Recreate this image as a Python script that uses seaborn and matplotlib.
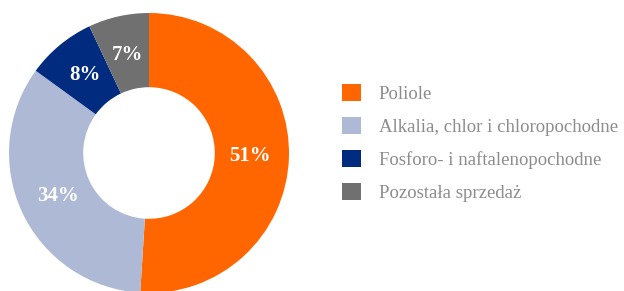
import matplotlib
matplotlib.use("Agg")
import matplotlib.pyplot as plt
import seaborn as sns
from matplotlib.patches import Patch

categories = ["Poliole", "Alkalia, chlor i chloropochodne",
              "Fosforo- i naftalenopochodne", "Pozostała sprzedaż"]
shares = [51, 34, 8, 7]
colors = ["#FF6600", "#ADB9D5", "#002B7F", "#707070"]

sns.set_style("white")
plt.rcParams['font.family'] = ['Liberation Serif', 'DejaVu Serif']

fig = plt.figure(figsize=(6.24, 2.91), dpi=100)
ax = fig.add_axes([9 / 624, -2 / 291, 280 / 624, 280 / 291])

wedges, texts, autotexts = ax.pie(
    shares, colors=colors, startangle=90, counterclock=False,
    autopct=lambda p: f"{p:.0f}%", pctdistance=0.72,
    wedgeprops=dict(width=0.53, edgecolor="none"),
    textprops=dict(color="white", fontsize=15, fontweight="bold"))
ax.set_xlim(-1, 1)
ax.set_ylim(-1, 1)
ax.set_aspect("equal")
ax.axis("off")

handles = [Patch(facecolor=c, edgecolor="none") for c in colors]
fig.legend(handles, categories, loc="upper left", bbox_to_anchor=(342 / 624, 1 - 84 / 291),
           frameon=False, fontsize=13.5, labelcolor="#8C8C8C", borderpad=0, borderaxespad=0,
           handlelength=1.0, handleheight=1.0, handletextpad=0.95, labelspacing=0.76)

fig.savefig("out.png", dpi=100)
